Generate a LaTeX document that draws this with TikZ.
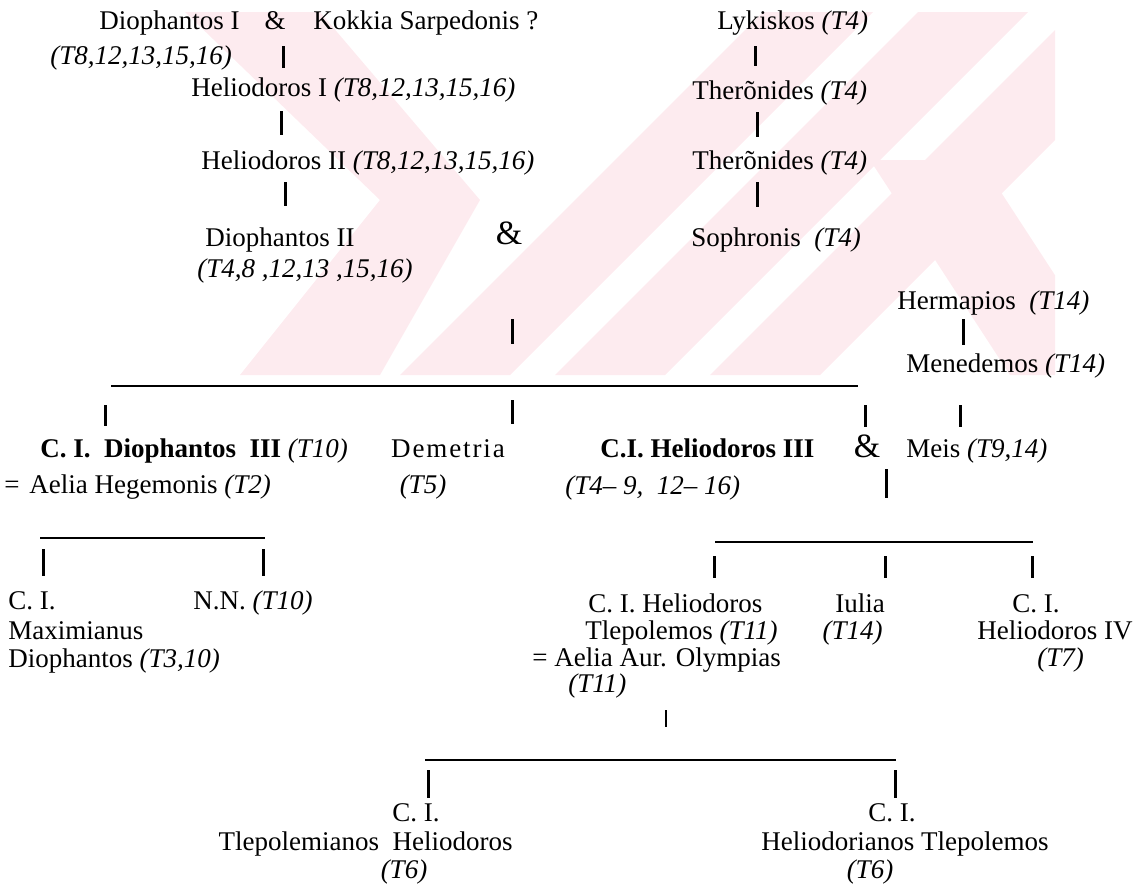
\documentclass[tikz,border=0pt]{standalone}
\usepackage{fontspec}
\setmainfont{Liberation Serif}
\usetikzlibrary{positioning}
\definecolor{wmpink}{RGB}{253,235,239}

\tikzset{
  person/.style={inner sep=0pt, anchor=base west},
  mid/.style={inner sep=0pt, anchor=base},
  amp/.style={inner sep=0pt, anchor=base, font=\fontsize{17}{17}\selectfont},
  tree/.style={line width=1.5pt},
  link/.style={line width=0.9pt},
}

\begin{document}
\begin{tikzpicture}[x=0.5pt, y=-0.5pt, font=\fontsize{13.5}{16}\selectfont]
\useasboundingbox (0,0) rectangle (1137,894);

% watermark
\begin{scope}
\clip (185,12) rectangle (1055,375);
\fill[wmpink] (185,12) -- (320,12) -- (480,200) -- (380,375) -- (240,375) -- (380,200) -- cycle;
\foreach \s in {400,555,710}
  \fill[wmpink] (\s,375) -- (\s+110,375) -- (\s+473,12) -- (\s+363,12) -- cycle;
\fill[wmpink] (870,160) -- (980,160) -- (1120,375) -- (1010,375) -- cycle;
\end{scope}

% left line of descent
\node[person] (dioI) at (99,29) {Diophantos I};
\node[mid] (amp1) at (275,29) {\&};
\node[person] (kokkia) at (313,29) {Kokkia Sarpedonis ?};
\node[person] (dioIref) at (50,64) {\textit{(T8,12,13,15,16)}};
\node[person] (helI) at (191,97) {Heliodoros I \textit{(T8,12,13,15,16)}};
\node[person] (helII) at (201,169) {Heliodoros II \textit{(T8,12,13,15,16)}};
\node[person] (dioII) at (205,246) {Diophantos II};
\node[person] (dioIIref) at (197,277) {\textit{(T4,8 ,12,13 ,15,16)}};
\node[amp] (amp2) at (509,244) {\&};

% right line of descent
\node[person] (lyk) at (717,29) {Lykiskos \textit{(T4)}};
\node[person] (ther1) at (692,99) {Therõnides \textit{(T4)}};
\node[person] (ther2) at (692,169) {Therõnides \textit{(T4)}};
\node[person] (soph) at (691,246) {Sophronis\ \ \textit{(T4)}};
\node[person] (herm) at (897,309) {Hermapios\ \ \textit{(T14)}};
\node[person] (mened) at (906,372) {Menedemos \textit{(T14)}};

% children of Diophantos II
\node[person] (dioIII) at (40,457) {\textbf{C.\ I.\ \ Diophantos\ \ III} \textit{(T10)}};
\node[person] (eqA) at (4,493) {=};
\node[person] (aelia) at (29,493) {Aelia Hegemonis \textit{(T2)}};
\node[mid] (demetria) at (448,457) {\addfontfeature{LetterSpace=7}Demetria};
\node[mid] (demref) at (423,493) {\textit{(T5)}};
\node[person] (helIII) at (600,457) {\textbf{C.I.\ Heliodoros\ III}};
\node[amp] (amp3) at (867,457) {\&};
\node[person] (meis) at (906,457) {Meis \textit{(T9,14)}};
\node[person] (helIIIref) at (565,494) {\textit{(T4-- 9, \ 12-- 16)}};

% grandchildren
\node[person] (maxA) at (8,609) {C. I.};
\node[person] (maxB) at (8,639) {Maximianus};
\node[person] (maxC) at (8,667) {Diophantos \textit{(T3,10)}};
\node[person] (nn) at (193,609) {N.N. \textit{(T10)}};
\node[person] (tlepA) at (588,612) {C. I. Heliodoros};
\node[person] (tlepB) at (585,639) {Tlepolemos \textit{(T11)}};
\node[person] (tlepC) at (532,666) {= Aelia Aur. Olympias};
\node[person] (tlepD) at (568,692) {\textit{(T11)}};
\node[person] (iulia) at (835,612) {Iulia};
\node[inner sep=0pt, anchor=base east] (iuliaref) at (883,639) {\textit{(T14)}};
\node[person] (helIVa) at (1012,612) {C. I.};
\node[person] (helIVb) at (977,639) {Heliodoros IV};
\node[person] (helIVc) at (1037,666) {\textit{(T7)}};

% great-grandchildren
\node[mid] (tlhA) at (416,821) {C. I.};
\node[inner sep=0pt, anchor=base east] (tlhB) at (513,850) {Tlepolemianos\ \ Heliodoros};
\node[mid] (tlhC) at (404,878) {\textit{(T6)}};
\node[mid] (hltA) at (892,821) {C. I.};
\node[mid] (hltB) at (905,850) {Heliodorianos Tlepolemos};
\node[mid] (hltC) at (870,878) {\textit{(T6)}};

% descent bars
\foreach \n/\x/\a/\b in {b1/283/46/68, b2/281/111/135, b3/285/182/206, b4/512/319/344,
    l1/755/46/66, l2/757/112/137, l3/757/182/207, h1/963/319/345,
    g1/105/405/426, g2/512/400/424, g3/865/405/427, m1/960/405/427, a1/886/469/498,
    d1/43/549/576, d2/263/549/576, c1/714/556/578, c2/885/556/578, c3/1032/556/578,
    t1/428/770/798, t2/895/770/798}{
  \coordinate (\n-top) at (\x,\a);
  \coordinate (\n-bot) at (\x,\b);
  \draw[tree] (\n-top) -- (\n-bot);
}
\coordinate (s1-top) at (666,710);
\coordinate (s1-bot) at (666,727);
\draw[line width=0.8pt] (s1-top) -- (s1-bot);

% sibling lines
\coordinate (gen-l) at (111,386);  \coordinate (gen-r) at (858,386);
\coordinate (dio-l) at (40,538);   \coordinate (dio-r) at (265,538);
\coordinate (hel-l) at (715,542);  \coordinate (hel-r) at (1033,542);
\coordinate (tle-l) at (425,760);  \coordinate (tle-r) at (896,760);
\draw[link] (gen-l) -- (gen-r);
\draw[link] (dio-l) -- (dio-r);
\draw[link] (hel-l) -- (hel-r);
\draw[link] (tle-l) -- (tle-r);
\end{tikzpicture}
\end{document}
